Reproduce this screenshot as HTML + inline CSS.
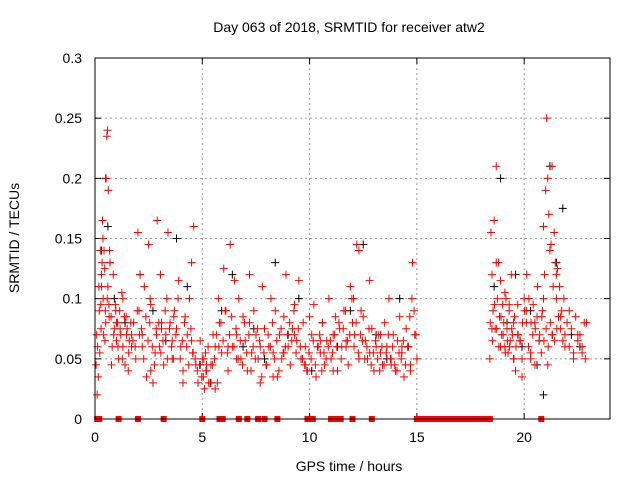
<!DOCTYPE html>
<html><head><meta charset="utf-8"><style>
body{margin:0;background:#fff}
svg text{font-family:"Liberation Sans",sans-serif;font-size:14px}
</style></head><body>
<svg id="chart" width="640" height="480" xmlns="http://www.w3.org/2000/svg">
<text x="349" y="32" text-anchor="middle">Day 063 of 2018, SRMTID for receiver atw2</text>
<text x="349" y="471" text-anchor="middle">GPS time / hours</text>
<text transform="translate(19,238) rotate(-90)" text-anchor="middle">SRMTID / TECUs</text>
<g id="grid"></g>
<g id="ticks"></g>
<g id="black"></g>
<g id="red"></g>
<rect x="95" y="58" width="515" height="361" fill="none" stroke="#000" stroke-width="1"/>
</svg>
<script>
const xTicks=[0,5,10,15,20];
const yTicks=[0,0.05,0.1,0.15,0.2,0.25,0.3];
const yTickLabels=["0","0.05","0.1","0.15","0.2","0.25","0.3"];
const redT=[0.05,0.1,0.12,0.15,0.2,0.22,0.25,0.28,0.3,0.33,0.35,0.38,0.4,0.42,0.45,0.48,0.5,0.52,0.55,0.58,0.6,0.62,0.65,0.68,0.7,0.75,0.8,0.85,0.9,0.95,1.0,1.05,1.1,1.15,1.2,1.25,1.3,1.4,1.45,1.5,1.55,1.6,1.7,1.8,1.9,2.0,2.05,2.1,2.2,2.3,2.4,2.5,2.55,2.6,2.7,2.8,2.85,2.9,3.0,3.05,3.1,3.2,3.3,3.35,3.4,3.5,3.6,3.65,3.7,3.8,3.9,4.0,4.1,4.2,4.3,4.4,4.5,4.55,4.6,4.7,4.8,4.9,5.0,5.05,5.1,5.15,5.2,5.3,5.4,5.5,5.6,5.7,5.75,5.8,5.9,6.0,6.1,6.2,6.3,6.4,6.5,6.6,6.7,6.8,6.9,7.0,7.1,7.2,7.3,7.4,7.5,7.6,7.7,7.8,7.9,8.0,8.1,8.2,8.3,8.4,8.5,8.6,8.7,8.8,8.9,9.0,9.1,9.2,9.3,9.4,9.5,9.6,9.7,9.8,9.9,10.0,10.1,10.2,10.3,10.4,10.5,10.6,10.7,10.8,10.9,11.0,11.1,11.2,11.3,11.4,11.5,11.6,11.7,11.8,11.9,12.0,12.05,12.1,12.2,12.3,12.4,12.5,12.6,12.7,12.8,12.9,13.0,13.1,13.2,13.3,13.4,13.5,13.6,13.7,13.8,13.9,14.0,14.1,14.2,14.3,14.4,14.5,14.6,14.7,14.8,14.9,15.0,0.3,0.7,1.0,1.3,1.7,2.2,2.6,3.1,3.6,4.1,4.5,5.2,5.6,6.2,6.6,7.2,7.7,8.3,8.8,9.3,9.8,10.5,11.1,11.7,12.3,12.8,13.3,13.8,14.3,14.7,18.4,18.45,18.5,18.55,18.6,18.65,18.7,18.75,18.8,18.85,18.9,18.95,19.0,19.05,19.1,19.15,19.2,19.25,19.3,19.35,19.4,19.45,19.5,19.55,19.6,19.7,19.8,19.9,20.0,20.1,20.2,20.3,20.4,20.5,20.6,20.7,20.8,20.85,20.9,20.95,21.0,21.05,21.1,21.15,21.2,21.25,21.3,21.35,21.4,21.45,21.5,21.55,21.6,21.65,21.7,21.75,21.8,21.85,21.9,22.0,22.1,22.2,22.3,22.4,22.5,22.6,22.7,22.8,22.85,18.5,18.7,18.9,19.1,19.3,19.5,19.7,19.9,20.1,20.3,20.5,20.7,20.9,21.1,21.3,21.5,21.7,21.9,22.1,22.3,22.5,22.7,22.9,
0.08,0.18,0.27,0.37,0.46,0.57,0.66,0.77,0.87,0.97,1.07,1.17,1.27,1.37,1.47,1.57,1.67,1.77,1.87,1.97,2.07,2.17,2.27,2.37,2.47,2.57,2.67,2.77,2.87,2.97,3.07,3.17,3.27,3.37,3.47,3.57,3.67,3.77,3.87,3.97,4.07,4.17,4.27,4.37,4.47,4.57,4.67,4.77,4.87,4.97,5.07,5.17,5.27,5.37,5.47,5.57,5.67,5.77,5.87,5.97,6.07,6.17,6.27,6.37,6.47,6.57,6.67,6.77,6.87,6.97,7.07,7.17,7.27,7.37,7.47,7.57,7.67,7.77,7.87,7.97,8.07,8.17,8.27,8.37,8.47,8.57,8.67,8.77,8.87,8.97,9.07,9.17,9.27,9.37,9.47,9.57,9.67,9.77,9.87,9.97,10.07,10.17,10.27,10.37,10.47,10.57,10.67,10.77,10.87,10.97,11.07,11.17,11.27,11.37,11.47,11.57,11.67,11.77,11.87,11.97,12.07,12.17,12.27,12.37,12.47,12.57,12.67,12.77,12.87,12.97,13.07,13.17,13.27,13.37,13.47,13.57,13.67,13.77,13.87,13.97,14.07,14.17,14.27,14.37,14.47,14.57,14.67,14.77,14.87,14.95,18.42,18.52,18.62,18.72,18.82,18.92,19.02,19.12,19.22,19.32,19.42,19.52,19.62,19.72,19.82,19.92,20.02,20.12,20.22,20.32,20.42,20.52,20.62,20.72,20.82,20.92,21.02,21.12,21.22,21.32,21.42,21.52,21.62,21.72,21.82,21.92,22.02,22.12,22.22,22.32,22.42,22.52,22.62,22.72,22.82];
const redV=[0.045,0.02,0.06,0.035,0.09,0.055,0.14,0.075,0.12,0.13,0.165,0.1,0.07,0.14,0.125,0.09,0.08,0.2,0.235,0.24,0.11,0.19,0.095,0.14,0.13,0.085,0.06,0.12,0.075,0.095,0.065,0.08,0.05,0.09,0.07,0.105,0.06,0.045,0.085,0.075,0.04,0.065,0.07,0.08,0.05,0.155,0.09,0.12,0.06,0.11,0.035,0.145,0.08,0.095,0.03,0.055,0.075,0.165,0.06,0.12,0.08,0.045,0.07,0.1,0.155,0.08,0.065,0.05,0.09,0.075,0.115,0.06,0.04,0.085,0.07,0.1,0.13,0.055,0.16,0.045,0.03,0.065,0.05,0.035,0.025,0.055,0.04,0.03,0.045,0.07,0.06,0.03,0.1,0.08,0.055,0.125,0.09,0.04,0.145,0.06,0.115,0.07,0.1,0.05,0.085,0.065,0.04,0.12,0.055,0.09,0.07,0.05,0.03,0.11,0.075,0.045,0.06,0.1,0.055,0.09,0.035,0.07,0.05,0.085,0.12,0.06,0.045,0.075,0.095,0.065,0.115,0.05,0.08,0.06,0.04,0.085,0.07,0.095,0.035,0.06,0.055,0.08,0.045,0.065,0.1,0.05,0.07,0.085,0.04,0.075,0.06,0.09,0.065,0.045,0.11,0.08,0.1,0.07,0.145,0.14,0.09,0.085,0.065,0.05,0.115,0.075,0.04,0.06,0.07,0.055,0.045,0.08,0.06,0.1,0.05,0.07,0.04,0.065,0.085,0.055,0.035,0.075,0.06,0.045,0.13,0.07,0.05,0.11,0.13,0.08,0.1,0.06,0.07,0.04,0.075,0.05,0.03,0.065,0.045,0.025,0.06,0.05,0.08,0.06,0.035,0.055,0.07,0.045,0.065,0.04,0.06,0.05,0.055,0.07,0.045,0.06,0.04,0.05,0.155,0.12,0.09,0.165,0.075,0.21,0.1,0.13,0.085,0.115,0.07,0.095,0.08,0.06,0.1,0.075,0.055,0.09,0.065,0.12,0.07,0.05,0.085,0.04,0.095,0.065,0.035,0.1,0.08,0.06,0.05,0.07,0.045,0.085,0.065,0.055,0.09,0.16,0.12,0.19,0.25,0.2,0.17,0.14,0.145,0.21,0.11,0.155,0.13,0.1,0.125,0.085,0.11,0.075,0.09,0.065,0.1,0.07,0.08,0.06,0.075,0.055,0.085,0.065,0.07,0.06,0.08,0.05,0.075,0.13,0.06,0.105,0.095,0.08,0.07,0.05,0.09,0.055,0.08,0.065,0.1,0.045,0.07,0.12,0.085,0.06,0.09,0.05,0.07,0.055,0.08,
0.07,0.11,0.095,0.15,0.065,0.1,0.085,0.045,0.07,0.09,0.06,0.075,0.05,0.085,0.07,0.055,0.08,0.065,0.06,0.09,0.07,0.075,0.05,0.085,0.065,0.1,0.06,0.045,0.07,0.08,0.055,0.065,0.09,0.05,0.075,0.06,0.085,0.07,0.1,0.05,0.065,0.08,0.06,0.045,0.075,0.055,0.05,0.04,0.045,0.035,0.05,0.04,0.06,0.03,0.045,0.05,0.07,0.06,0.08,0.065,0.09,0.055,0.07,0.085,0.06,0.075,0.05,0.065,0.045,0.08,0.055,0.07,0.04,0.06,0.05,0.075,0.065,0.035,0.055,0.045,0.07,0.06,0.08,0.05,0.065,0.04,0.075,0.055,0.06,0.07,0.08,0.065,0.09,0.055,0.075,0.06,0.05,0.045,0.04,0.055,0.05,0.065,0.045,0.06,0.07,0.04,0.055,0.05,0.06,0.065,0.055,0.07,0.06,0.08,0.05,0.075,0.09,0.065,0.07,0.1,0.06,0.08,0.055,0.07,0.065,0.05,0.06,0.075,0.045,0.055,0.065,0.05,0.04,0.06,0.045,0.055,0.07,0.05,0.06,0.045,0.04,0.055,0.05,0.065,0.045,0.06,0.085,0.1,0.09,0.07,0.08,0.065,0.095,0.075,0.06,0.085,0.07,0.055,0.065,0.06,0.075,0.05,0.06,0.07,0.065,0.08,0.09,0.12,0.1,0.08,0.095,0.075,0.11,0.07,0.085,0.065,0.075,0.06,0.08,0.07,0.065,0.075];
const blackT=[0.3,0.5,0.6,0.9,1.4,2.1,2.7,3.3,3.8,4.3,4.9,5.4,5.9,6.4,6.9,7.4,7.9,8.4,9.0,9.5,10.1,10.6,11.3,11.9,12.5,13.1,13.6,14.2,14.6,18.6,18.9,19.2,19.6,19.9,20.3,20.6,20.9,21.2,21.5,21.8,22.2,22.6];
const blackV=[0.14,0.2,0.16,0.1,0.08,0.12,0.09,0.065,0.15,0.11,0.045,0.03,0.09,0.12,0.06,0.075,0.05,0.13,0.07,0.1,0.04,0.08,0.06,0.09,0.145,0.07,0.05,0.1,0.06,0.11,0.2,0.08,0.12,0.06,0.09,0.045,0.02,0.21,0.13,0.175,0.07,0.06];
const zeroT=[0.1,0.2,1.1,2.0,3.2,5.0,5.8,5.95,6.7,7.1,7.6,7.9,8.5,9.9,10.05,10.15,11.0,11.15,11.3,11.45,12.0,12.9,15.0,15.2,15.4,15.6,15.8,16.0,16.2,16.4,16.6,16.8,17.0,17.2,17.4,17.6,17.8,18.0,18.2,18.4,20.8];
const X=t=>95+t*(515/24), Y=v=>419-v*(361/0.3);
const NS="http://www.w3.org/2000/svg";
function mk(tag,attrs,parent){const e=document.createElementNS(NS,tag);for(const k in attrs)e.setAttribute(k,attrs[k]);parent.appendChild(e);return e;}
const grid=document.getElementById('grid'),ticks=document.getElementById('ticks');
xTicks.forEach(t=>{
 if(t>0){const l=mk('line',{x1:X(t),x2:X(t),y1:58,y2:419,stroke:'#999','stroke-dasharray':'2,3'},grid);
 
 }
 mk('line',{x1:X(t),x2:X(t),y1:419,y2:413,stroke:'#000'},ticks);
 mk('line',{x1:X(t),x2:X(t),y1:58,y2:64,stroke:'#000'},ticks);
 const tx=mk('text',{x:X(t),y:442,'text-anchor':'middle'},ticks);tx.textContent=t;
 
 
});
yTicks.forEach((v,i)=>{
 if(v>0&&v<0.3){const l=mk('line',{x1:95,x2:610,y1:Y(v),y2:Y(v),stroke:'#999','stroke-dasharray':'2,3'},grid);
 
 }
 mk('line',{x1:95,x2:101,y1:Y(v),y2:Y(v),stroke:'#000'},ticks);
 mk('line',{x1:604,x2:610,y1:Y(v),y2:Y(v),stroke:'#000'},ticks);
 const tx=mk('text',{x:82,y:Y(v)+5,'text-anchor':'end'},ticks);tx.textContent=yTickLabels[i];
 
 
});
function plus(g,t,v,c){const x=X(t),y=Y(v);
 const p=mk('path',{d:`M${x-4},${y}H${x+4}M${x},${y-4}V${y+4}`,stroke:c,'stroke-width':1},g);
 
 }
const bg=document.getElementById('black'),rg=document.getElementById('red');
blackT.forEach((t,i)=>plus(bg,t,blackV[i],'#000'));
redT.forEach((t,i)=>plus(rg,t,redV[i],'#f00'));
zeroT.forEach(t=>{const r=mk('rect',{x:X(t)-3,y:416,width:6,height:6,fill:'#f00'},rg);
 
 });
</script>
</body></html>
